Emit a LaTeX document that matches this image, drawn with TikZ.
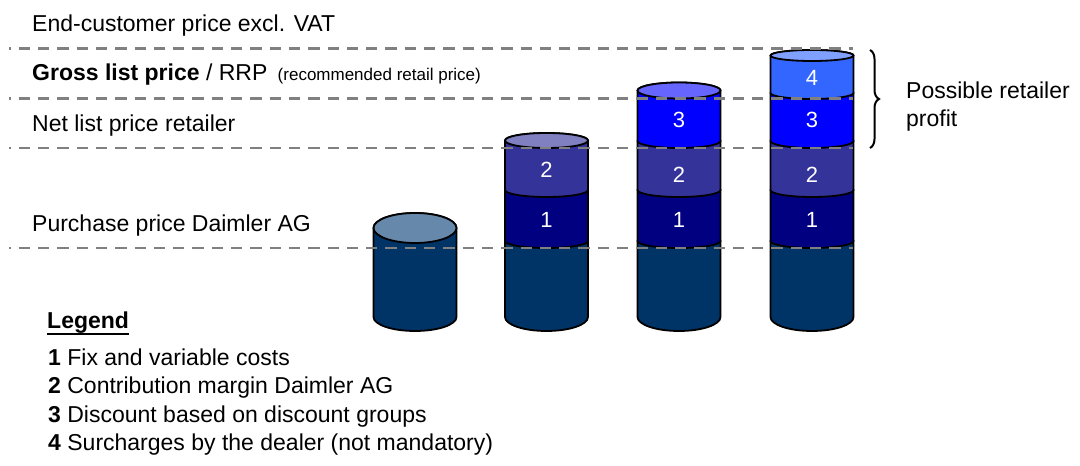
\documentclass[tikz,border=0pt]{standalone}
\usepackage{fontspec}
\setmainfont{Liberation Sans}
\usetikzlibrary{decorations.pathreplacing}
\definecolor{cbase}{RGB}{0,51,102}
\definecolor{ctopA}{RGB}{102,136,170}
\definecolor{csecA}{RGB}{0,0,128}
\definecolor{csecB}{RGB}{51,51,153}
\definecolor{ctopB}{RGB}{128,128,192}
\definecolor{csecC}{RGB}{0,0,255}
\definecolor{ctopC}{RGB}{102,102,255}
\definecolor{csecD}{RGB}{51,102,255}
\definecolor{ctopD}{RGB}{128,160,255}
\definecolor{dashgray}{RGB}{128,128,128}
% #1 xc, #2 bottom centre Y, #3 bottom ry, #4 top centre Y, #5 top ry, #6 colour
\newcommand\cylsec[6]{%
  \filldraw[fill=#6, draw=black, line width=1.8pt, line join=round]
    ({#1-41.5},#4) -- ({#1-41.5},#2)
    arc[start angle=180, end angle=360, x radius=41.5, y radius=#3]
    -- ({#1+41.5},#4)
    arc[start angle=0, end angle=180, x radius=41.5, y radius=#5] -- cycle;}
\newcommand\cyltop[4]{%
  \filldraw[fill=#4, draw=black, line width=1.8pt] (#1,#2) ellipse[x radius=41.5, y radius=#3];}
\begin{document}
\begin{tikzpicture}[x=1pt, y=1pt,
  lbl/.style={inner sep=0pt, anchor=base west, font=\fontsize{23}{27}\selectfont},
  num/.style={inner sep=0pt, text=white, font=\fontsize{22}{26}\selectfont},
  dashline/.style={dashgray, line width=2.6pt, dash pattern=on 11.3pt off 8pt, dash phase=9.6pt}]
\useasboundingbox (0,0) rectangle (1080,466);
\fill[white] (0,0) rectangle (1080,466);

% cylinder 1
\cylsec{415}{149}{14}{238}{15}{cbase}
\cyltop{415}{238}{15}{ctopA}

% cylinder 2
\cylsec{546.5}{149}{14}{225}{7}{cbase}
\cylsec{546.5}{225}{7}{276}{7}{csecA}
\cylsec{546.5}{276}{7}{325.5}{7.5}{csecB}
\cyltop{546.5}{325.5}{7.5}{ctopB}

% cylinder 3
\cylsec{679}{149}{14}{225}{7}{cbase}
\cylsec{679}{225}{7}{276}{7}{csecA}
\cylsec{679}{276}{7}{325}{7}{csecB}
\cylsec{679}{325}{7}{375.5}{8}{csecC}
\cyltop{679}{375.5}{8}{ctopC}

% cylinder 4
\cylsec{812}{149}{14}{225}{7}{cbase}
\cylsec{812}{225}{7}{276}{7}{csecA}
\cylsec{812}{276}{7}{325}{7}{csecB}
\cylsec{812}{325}{7}{373}{6}{csecC}
\cylsec{812}{373}{6}{410.5}{5.5}{csecD}
\cyltop{812}{410.5}{5.5}{ctopD}

% numbers
\node[num] (b2n1) at (546.5,246) {1};
\node[num] (b2n2) at (546.5,296) {2};
\node[num] (b3n1) at (679,246) {1};
\node[num] (b3n2) at (679,291) {2};
\node[num] (b3n3) at (679,346) {3};
\node[num] (b4n1) at (812,246) {1};
\node[num] (b4n2) at (812,291) {2};
\node[num] (b4n3) at (812,346) {3};
\node[num] (b4n4) at (812,388) {4};

% dashed level lines
\draw[dashline] (9,417.5) -- (853,417.5);
\draw[dashline] (9,367.5) -- (853,367.5);
\draw[dashline] (9,318) -- (853,318);
\draw[dashline] (9,218) -- (853,218);

% brace
\draw[decorate, decoration={brace, amplitude=9pt}, line width=2pt] (870,416) -- (870,318);

% level labels
\node[lbl] (endc) at (32,434) {End-customer price excl. VAT};
\node[lbl] (gross) at (32,385) {\textbf{Gross list price} / RRP\hspace{0.45em}{\fontsize{17}{20}\selectfont(recommended retail price)}};
\node[lbl] (net) at (32,334.5) {Net list price retailer};
\node[lbl] (purch) at (32,234.5) {Purchase price Daimler AG};

\node[lbl] (prof1) at (906,367) {Possible retailer};
\node[lbl] (prof2) at (906,339) {profit};

% legend
\node[lbl] (leg) at (47,137) {\textbf{Legend}};
\draw[line width=1.6pt] ([yshift=-5pt]leg.base west) -- ([yshift=-5pt]leg.base east);
\node[lbl] (leg1) at (48,100.5) {\textbf{1} Fix and variable costs};
\node[lbl] (leg2) at (48,72) {\textbf{2} Contribution margin Daimler AG};
\node[lbl] (leg3) at (48,43.5) {\textbf{3} Discount based on discount groups};
\node[lbl] (leg4) at (48,15) {\textbf{4} Surcharges by the dealer (not mandatory)};
\end{tikzpicture}
\end{document}
